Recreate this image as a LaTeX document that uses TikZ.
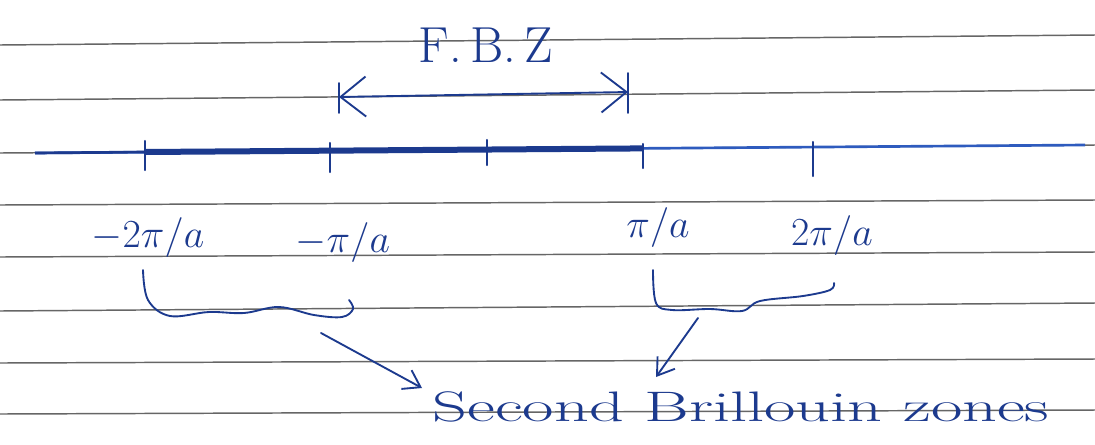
\documentclass[tikz,border=0pt]{standalone}
\usetikzlibrary{arrows.meta}
\definecolor{ink}{HTML}{1C3A8E}
\definecolor{inklight}{HTML}{2E5BBE}
\definecolor{rulegrey}{HTML}{666666}
\begin{document}
\begin{tikzpicture}[x=0.75pt,y=-0.75pt,
  ruling/.style={rulegrey, line width=1.1pt},
  pen/.style={ink, line width=1.4pt, line cap=round, line join=round},
  ticksty/.style={ink, line width=1.6pt, line cap=round},
  lbl/.style={ink, inner sep=0pt, scale=1.2, transform shape, font=\fontsize{24}{26}\selectfont},
  bigbarb/.style={{Straight Barb[length=19pt,width=30pt]}-{Straight Barb[length=19pt,width=30pt]}},
  smallbarb/.style={-{Straight Barb[length=12pt,width=16pt]}}
]
\useasboundingbox[fill=white] (0,0) rectangle (1095,444);

% ruled paper
\foreach \yl/\yr in {45/35, 100/90, 153/145, 205/200, 257/252, 311/303, 363/359, 414/410}
  \draw[ruling] (0,\yl) -- (1095,\yr);

% k axis
\coordinate (axL) at (35,153);
\coordinate (axR) at (1085,145);
\coordinate (zL) at (145,152);
\coordinate (zR) at (643,148.4);
\draw[inklight, line width=2pt] (axL) -- (axR);
\draw[ink, line width=2pt] (axL) -- (zL);
\draw[ink, line width=4.5pt] (zL) -- (zR);

% tick marks
\draw[ticksty] (145,141) -- (145,170);
\draw[ticksty] (330,143) -- (330,172);
\draw[ticksty] (487,140) -- (487,165);
\draw[ticksty] (643,144) -- (643,168);
\draw[ticksty] (813,142) -- (813,176);

% tick labels
\node[lbl] (m2) at (148,238) {$-2\pi/a$};
\node[lbl] (m1) at (343,243) {$-\pi/a$};
\node[lbl] (p1) at (658,228) {$\pi/a$};
\node[lbl] (p2) at (832,236) {$2\pi/a$};

% first Brillouin zone
\node[ink, inner sep=0pt, font=\fontsize{38}{40}\selectfont] (fbz) at (486,45) {F.\,B.\,Z};
\coordinate (fL) at (339,97);
\coordinate (fR) at (628,92);
\draw[pen] (339,83) -- (339,113);
\draw[pen] (628,73) -- (628,113);
\draw[pen, bigbarb] (fL) -- (fR);

% braces under the second zones
\draw[pen] plot[smooth, tension=0.6] coordinates
  {(143,270) (148,300) (170,316) (209,312) (244,313) (279,307) (314,315) (342,317) (353,309) (349,300)};
\draw[pen] plot[smooth, tension=0.6] coordinates
  {(653,270) (656,303) (672,310) (710,309) (742,311) (760,301) (803,296) (830,290) (834,283)};

% caption and pointers
\node[ink, inner sep=0pt, anchor=base, xscale=1.6, transform shape,
      font=\fontsize{32}{34}\selectfont] (zones) at (741,421) {Second Brillouin zones};
\coordinate (b1) at (321,333);
\coordinate (t1) at (422,388);
\coordinate (b2) at (698,318);
\coordinate (t2) at (656,377);
\draw[pen, smallbarb] (b1) -- (t1);
\draw[pen, smallbarb] (b2) -- (t2);
\end{tikzpicture}
\end{document}
